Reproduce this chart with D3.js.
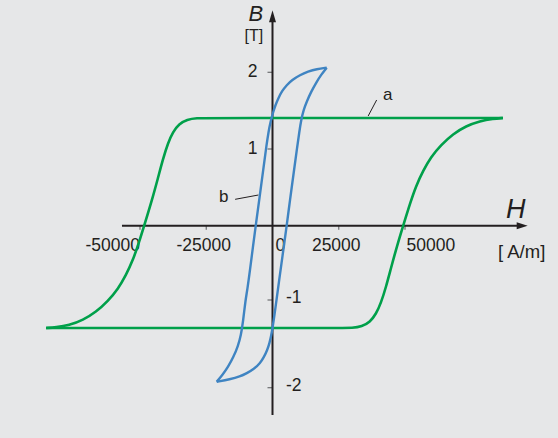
<!DOCTYPE html>
<html><head><meta charset="utf-8">
<script src="https://cdn.jsdelivr.net/npm/d3@7"></script>
<style>html,body{margin:0;padding:0;background:#e6e7e8}svg{display:block}</style>
</head><body><svg id="c" width="558" height="438"></svg>
<script>
// ---- data (H in A/m, B in T) ----
const hTicks = [-50000, -25000, 0, 25000, 50000];
const hTickLabels = ["-50000", "-25000", "0", "25000", "50000"];
const bTicks = [-2, -1, 1, 2];
const bTickLabels = ["-2", "-1", "1", "2"];

// curve a (wide loop, green) – ascending branch
const aAscH = [-85470, 26200, 30000, 33770, 36790, 39060, 40940, 42830, 44720, 46980, 49620, 51890, 54150, 56790, 59810, 63590, 68110, 73020, 78300, 83210, 86980];
const aAscB = [-1.319, -1.319, -1.319, -1.302, -1.251, -1.160, -1.034, -0.825, -0.569, -0.273, 0.035, 0.289, 0.518, 0.713, 0.896, 1.052, 1.196, 1.300, 1.365, 1.395, 1.404];
// curve a – descending branch
const aDescH = [86980, -24700, -28490, -32260, -35280, -37550, -39430, -41320, -43210, -45470, -48110, -50380, -52640, -55280, -58300, -62080, -66600, -71510, -76790, -81700, -85470];
const aDescB = [1.404, 1.404, 1.404, 1.385, 1.326, 1.222, 1.079, 0.870, 0.622, 0.335, 0.035, -0.226, -0.462, -0.664, -0.852, -1.011, -1.137, -1.228, -1.289, -1.312, -1.319];

// curve b (narrow loop, blue) – descending branch
const bDescH = [20450, 16680, 13400, 10380, 7360, 5360, 3590, 2190, 1130, 300, -755, -1510, -2260, -3400, -4910, -6340, -7430, -8490, -9510, -10190, -11130, -11890, -13020, -14720, -16790, -18870, -21060];
const bDescB = [2.06, 2.043, 2.010, 1.965, 1.900, 1.834, 1.756, 1.661, 1.574, 1.486, 1.356, 1.222, 1.052, 0.752, 0.361, 0, -0.30, -0.596, -0.865, -1.0, -1.251, -1.399, -1.525, -1.650, -1.764, -1.855, -1.932];
// curve b – ascending branch
const bAscH = [-21060, -16040, -12260, -9740, -6980, -4720, -3210, -1960, -1130, -570, 0, 755, 1510, 2530, 3660, 5360, 6600, 8040, 9320, 10110, 10830, 11700, 12910, 14530, 16680, 18300, 20450];
const bAscB = [-1.932, -1.904, -1.873, -1.836, -1.787, -1.722, -1.650, -1.570, -1.490, -1.418, -1.322, -1.171, -1.0, -0.731, -0.435, 0, 0.335, 0.700, 1.026, 1.222, 1.378, 1.508, 1.617, 1.743, 1.877, 1.965, 2.06];

// annotations
const annotations = [
  {text: "a", H: 41700, B: 1.639, from: [39300, 1.639], to: [36100, 1.43]},
  {text: "b", H: -20200, B: 0.309, from: [-14100, 0.344], to: [-5350, 0.40]}
];
const hAxisExtent = [-56800, 96300];
const bAxisExtent = [-2.31, 2.81];

// ---- scales ----
const x = d3.scaleLinear().domain([-50000, 50000]).range([140, 405]);
const y = d3.scaleLinear().domain([-2, -1, 0, 1, 2]).range([387.7, 300, 225.7, 149, 72.3]);

const svg = d3.select("#c");
const FONT = "'Liberation Sans', Arial, Helvetica, sans-serif";
const INK = "#231f20";

const x0 = x(0), y0 = y(0);

// ---- axes ----
svg.append("g").selectAll("line").data(hTicks.filter(d => d !== 0)).join("line")
  .attr("x1", d => x(d)).attr("x2", d => x(d))
  .attr("y1", y0).attr("y2", y0 + 4)
  .attr("stroke", "#6d6e70").attr("stroke-width", 1.2);
svg.append("g").selectAll("line").data(bTicks).join("line")
  .attr("x1", x0 - 5).attr("x2", x0)
  .attr("y1", d => y(d)).attr("y2", d => y(d))
  .attr("stroke", "#6d6e70").attr("stroke-width", 1.2);

svg.append("line")
  .attr("x1", x(hAxisExtent[0])).attr("x2", x(hAxisExtent[1]) - 8)
  .attr("y1", y0).attr("y2", y0)
  .attr("stroke", INK).attr("stroke-width", 2);
svg.append("line")
  .attr("x1", x0).attr("x2", x0)
  .attr("y1", y(bAxisExtent[0])).attr("y2", y(bAxisExtent[1]) + 8)
  .attr("stroke", INK).attr("stroke-width", 2);
const xt = x(hAxisExtent[1]), yt = y(bAxisExtent[1]);
svg.append("path").attr("d", `M${xt},${y0} L${xt - 11},${y0 - 3.5} L${xt - 11},${y0 + 3.5} Z`).attr("fill", INK);
svg.append("path").attr("d", `M${x0},${yt} L${x0 - 3.5},${yt + 12} L${x0 + 3.5},${yt + 12} Z`).attr("fill", INK);

// x tick labels
svg.append("g").selectAll("text").data(hTicks).join("text")
  .attr("x", (d) => {
    if (d === -50000) return x(d);
    if (d === 50000) return x(d) + 1.5;
    if (d === 0) return x(d) + 3;
    return x(d) - 2.5;
  })
  .attr("y", y0 + 25)
  .attr("text-anchor", d => d === -50000 ? "end" : (d === 50000 || d === 0) ? "start" : "middle")
  .attr("font-family", FONT).attr("font-size", 17.5).attr("fill", INK)
  .text((d, i) => hTickLabels[i]);

// y tick labels
svg.append("g").selectAll("text").data(bTicks).join("text")
  .attr("x", d => d > 0 ? x0 - 15 : x0 + 13.5)
  .attr("y", d => y(d) + (d > 0 ? 5 : 3))
  .attr("text-anchor", d => d > 0 ? "end" : "start")
  .attr("font-family", FONT).attr("font-size", 17.5).attr("fill", INK)
  .text((d, i) => bTickLabels[i]);

// axis titles
svg.append("text").attr("x", x0 - 24).attr("y", 21)
  .attr("font-family", FONT).attr("font-size", 22).attr("font-style", "italic").attr("fill", INK).text("B");
svg.append("text").attr("x", x0 - 28).attr("y", 41)
  .attr("font-family", FONT).attr("font-size", 16).attr("fill", INK).text("[T]");
svg.append("text").attr("x", 506).attr("y", y0 - 8)
  .attr("font-family", FONT).attr("font-size", 27).attr("font-style", "italic").attr("fill", INK).text("H");
svg.append("text").attr("x", 498).attr("y", y0 + 32)
  .attr("font-family", FONT).attr("font-size", 18.5).attr("fill", INK).text("[ A/m]");

// ---- curves ----
const line = d3.line().x(d => x(d[0])).y(d => y(d[1])).curve(d3.curveBasis);
const zip = (a, b) => a.map((v, i) => [v, b[i]]);

const GREEN = "#00a04a", BLUE = "#3f84c2";
[[aAscH, aAscB], [aDescH, aDescB]].forEach(([h, b]) =>
  svg.append("path").attr("d", line(zip(h, b))).attr("fill", "none")
    .attr("stroke", GREEN).attr("stroke-width", 2.6).attr("stroke-linejoin", "round"));
[[bDescH, bDescB], [bAscH, bAscB]].forEach(([h, b]) =>
  svg.append("path").attr("d", line(zip(h, b))).attr("fill", "none")
    .attr("stroke", BLUE).attr("stroke-width", 2.4).attr("stroke-linejoin", "round"));

// ---- annotations ----
annotations.forEach(a => {
  svg.append("line")
    .attr("x1", x(a.from[0])).attr("y1", y(a.from[1]))
    .attr("x2", x(a.to[0])).attr("y2", y(a.to[1]))
    .attr("stroke", INK).attr("stroke-width", 1);
  svg.append("text").attr("x", x(a.H)).attr("y", y(a.B))
    .attr("font-family", FONT).attr("font-size", 17).attr("fill", INK).text(a.text);
});
</script>
</body></html>
